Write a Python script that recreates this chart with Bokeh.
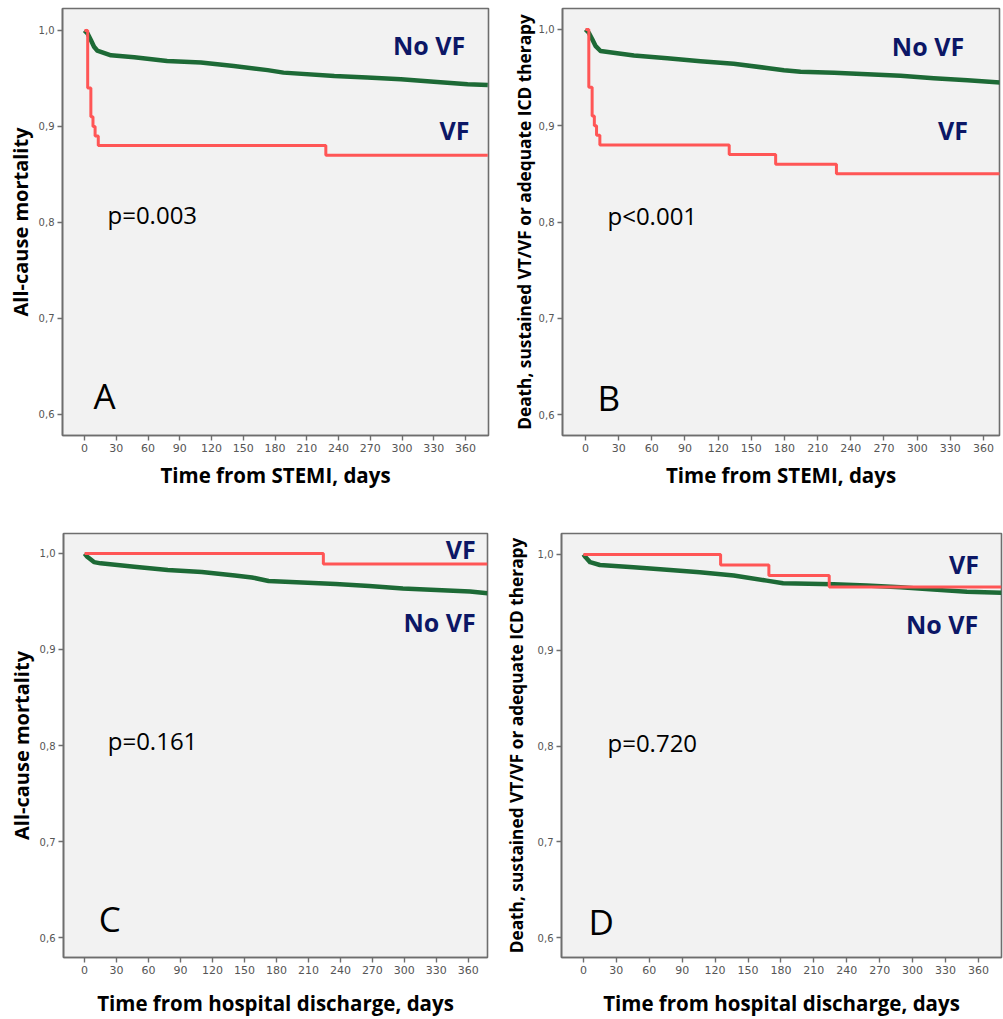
from bokeh.plotting import figure
from bokeh.models import Range1d, FixedTicker, CustomJSTickFormatter, Label
from bokeh.layouts import column, row
from bokeh.embed import file_html
from bokeh.resources import INLINE

# ---------------- data ----------------
x_ticks = [0, 30, 60, 90, 120, 150, 180, 210, 240, 270, 300, 330, 360]
y_ticks = [0.6, 0.7, 0.8, 0.9, 1.0]

# Panel A: time from STEMI, all-cause mortality
a_novf_days = [0, 3, 6, 9, 12, 25, 47, 78, 110, 141, 173, 188, 236, 267, 299, 330, 362, 381]
a_novf_surv = [1.0, 0.9966, 0.99, 0.983, 0.979, 0.974, 0.972, 0.968, 0.9666, 0.963, 0.9586, 0.956,
               0.9524, 0.951, 0.949, 0.9466, 0.944, 0.943]
a_vf_days = [0, 3, 6, 8, 10, 13, 228, 381]
a_vf_surv = [1.0, 0.94, 0.91, 0.90, 0.89, 0.88, 0.87, 0.87]

# Panel B: time from STEMI, death / sustained VT/VF / adequate ICD therapy
b_novf_days = [0, 3, 6, 9, 13.6, 43.8, 74, 104, 134, 164, 179.5, 194.6, 225, 255, 285, 315, 345.5, 375]
b_novf_surv = [1.0, 0.9966, 0.99, 0.983, 0.9776, 0.973, 0.97, 0.967, 0.9645, 0.960, 0.9576, 0.956,
               0.955, 0.9534, 0.952, 0.9493, 0.9472, 0.9448]
b_vf_days = [0, 3, 6, 8, 10, 13, 130, 172, 227, 375]
b_vf_surv = [1.0, 0.94, 0.91, 0.90, 0.89, 0.88, 0.87, 0.86, 0.85, 0.85]

# Panel C: time from hospital discharge, all-cause mortality
c_novf_days = [0, 2.5, 8.8, 15, 46.6, 78, 110, 141, 157, 172.6, 204, 235.6, 267, 298.6, 330, 361.6, 378]
c_novf_surv = [1.0, 0.9966, 0.991, 0.9897, 0.9862, 0.9828, 0.9807, 0.977, 0.975, 0.9714, 0.9697,
               0.9683, 0.9662, 0.9634, 0.962, 0.9603, 0.9586]
c_vf_days = [0, 224, 378]
c_vf_surv = [1.0, 0.989, 0.989]

# Panel D: time from hospital discharge, death / sustained VT/VF / adequate ICD therapy
d_novf_days = [0, 2, 6, 15, 45.6, 76, 106, 137, 167, 182, 228, 258, 289, 319, 349.5, 381]
d_novf_surv = [1.0, 0.997, 0.992, 0.989, 0.9867, 0.984, 0.9815, 0.978, 0.9727, 0.970, 0.969,
               0.9675, 0.9657, 0.9633, 0.9612, 0.96]
d_vf_days = [0, 125, 169, 224, 381]
d_vf_surv = [1.0, 0.989, 0.978, 0.966, 0.966]

p_values = ["p=0.003", "p<0.001", "p=0.161", "p=0.720"]
panel_letters = ["A", "B", "C", "D"]
x_titles = ["Time from STEMI, days", "Time from STEMI, days",
            "Time from hospital discharge, days", "Time from hospital discharge, days"]
y_titles = ["All-cause mortality", "Death, sustained VT/VF or adequate ICD therapy",
            "All-cause mortality", "Death, sustained VT/VF or adequate ICD therapy"]

GREEN = "#1d6a36"
RED = "#ff5656"
NAVY = "#0c1766"
GRAY = "#6e6e6e"
FONT = "Open Sans"


def make_panel(w, h, borders, xr, yr, novf, vf, letter, ptxt, xt, yt, yt_size,
               lab_novf, lab_vf, lab_p, lab_letter, xstand, ystand):
    bl, br, bt, bb = borders
    p = figure(width=w, height=h, output_backend="svg", toolbar_location=None,
               x_range=Range1d(*xr), y_range=Range1d(*yr),
               min_border_left=bl, min_border_right=br, min_border_top=bt, min_border_bottom=bb)
    p.background_fill_color = "#f2f2f2"
    p.border_fill_color = "white"
    p.outline_line_color = GRAY
    p.outline_line_width = 1.6
    p.grid.visible = False

    p.xaxis.ticker = FixedTicker(ticks=x_ticks)
    p.yaxis.ticker = FixedTicker(ticks=y_ticks)
    p.yaxis.formatter = CustomJSTickFormatter(code="return tick.toFixed(1).replace('.', ',');")
    for ax in (p.xaxis[0], p.yaxis[0]):
        ax.axis_line_color = GRAY
        ax.axis_line_width = 1.6
        ax.major_tick_line_color = GRAY
        ax.major_tick_line_width = 1.4
        ax.major_tick_in = 0
        ax.major_tick_out = 5
        ax.minor_tick_line_color = None
        ax.major_label_text_font = "DejaVu Sans"
        ax.major_label_text_color = "#555555"
        ax.axis_label_text_font = FONT
        ax.axis_label_text_font_style = "bold"
        ax.axis_label_text_color = "black"
    p.xaxis.major_label_text_font_size = "11px"
    p.yaxis.major_label_text_font_size = "10px"
    p.xaxis.major_label_standoff = 3
    p.yaxis.major_label_standoff = 3
    p.xaxis.axis_label = xt
    p.xaxis.axis_label_text_font_size = "20.5px"
    p.xaxis.axis_label_standoff = xstand
    p.yaxis.axis_label = yt
    p.yaxis.axis_label_text_font_size = yt_size
    p.yaxis.axis_label_standoff = ystand

    p.line(novf[0], novf[1], line_color=GREEN, line_width=4.5, line_join="round")
    p.step(vf[0], vf[1], mode="after", line_color=RED, line_width=3)

    p.add_layout(Label(x=lab_novf[0], y=lab_novf[1], text="No VF", text_font=FONT,
                       text_font_style="bold", text_font_size="25px", text_color=NAVY,
                       text_align="center", text_baseline="middle"))
    p.add_layout(Label(x=lab_vf[0], y=lab_vf[1], text="VF", text_font=FONT,
                       text_font_style="bold", text_font_size="25px", text_color=NAVY,
                       text_align="center", text_baseline="middle"))
    p.add_layout(Label(x=lab_p[0], y=lab_p[1], text=ptxt, text_font=FONT,
                       text_font_size="24px", text_color="black",
                       text_align="left", text_baseline="middle"))
    p.add_layout(Label(x=lab_letter[0], y=lab_letter[1], text=letter, text_font=FONT,
                       text_font_size="35px", text_color="black",
                       text_align="left", text_baseline="middle"))
    return p


pa = make_panel(500, 510, (62, 12, 8, 73), (-20.8, 381.7), (0.578, 1.0228),
                (a_novf_days, a_novf_surv), (a_vf_days, a_vf_surv),
                panel_letters[0], p_values[0], x_titles[0], y_titles[0], "20px",
                (325.6, 0.9845), (349.6, 0.8964), (21.7, 0.8085), (8.5, 0.6195), 6, 2)
pb = make_panel(503, 510, (62, 4, 7, 75), (-20.8, 374.5), (0.5782, 1.0218),
                (b_novf_days, b_novf_surv), (b_vf_days, b_vf_surv),
                panel_letters[1], p_values[1], x_titles[1], y_titles[1], "17.3px",
                (309.8, 0.9824), (332.4, 0.8953), (19.9, 0.807), (10.9, 0.6175), 6, 0)
pc = make_panel(500, 509, (63, 13, 23, 60), (-19.8, 378.0), (0.5792, 1.0208),
                (c_novf_days, c_novf_surv), (c_vf_days, c_vf_surv),
                panel_letters[2], p_values[2], x_titles[2], y_titles[2], "20px",
                (333.1, 0.9283), (352.9, 1.0047), (21.7, 0.8055), (13.2, 0.6195), 12, 2)
pd_ = make_panel(503, 509, (61, 2, 21, 62), (-20.0, 381.0), (0.5792, 1.0219),
                 (d_novf_days, d_novf_surv), (d_vf_days, d_vf_surv),
                 panel_letters[3], p_values[3], x_titles[3], y_titles[3], "17.3px",
                 (326.8, 0.9271), (346.9, 0.9896), (21.9, 0.8042), (4.6, 0.617), 12, 7)

layout = column(row(pa, pb, spacing=0), row(pc, pd_, spacing=0), spacing=0)

with open("out.html", "w") as f:
    f.write(file_html(layout, INLINE))
